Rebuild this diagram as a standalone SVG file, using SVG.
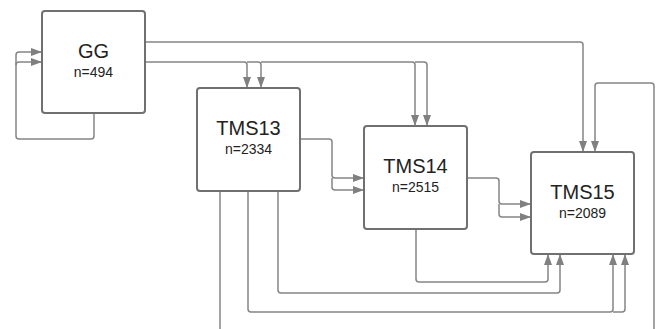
<svg xmlns="http://www.w3.org/2000/svg" width="657" height="329" viewBox="0 0 657 329">
<style>
.box{fill:#ffffff;stroke:#707070;stroke-width:2}
.t{font-family:"Liberation Sans",Arial,sans-serif;font-size:20px;fill:#222;text-anchor:middle}
.n{font-family:"Liberation Sans",Arial,sans-serif;font-size:14px;fill:#222;text-anchor:middle}
.c{fill:none;stroke:#858585;stroke-width:1.5}
</style>
<defs>
<marker id="a" markerUnits="userSpaceOnUse" markerWidth="12" markerHeight="8" refX="11" refY="4" orient="auto">
<path d="M0,0 L11,4 L0,8 z" fill="#808080"/>
</marker>
</defs>
<rect width="657" height="329" fill="#ffffff"/>
<g id="connectors">
<path class="c" d="M94,113 V136 Q94,139 91,139 H19 Q16,139 16,136 V55 Q16,52 19,52 H42" marker-end="url(#a)"/>
<path class="c" d="M16,65 Q16,62 19,62 H42" marker-end="url(#a)"/>
<path class="c" d="M145,42 H580 Q583,42 583,45 V152" marker-end="url(#a)"/>
<path class="c" d="M145,62 H244 Q247,62 247,65 V88" marker-end="url(#a)"/>
<path class="c" d="M247,62 H258 Q261,62 261,65 V88" marker-end="url(#a)"/>
<path class="c" d="M261,62 H412 Q415,62 415,65 V126" marker-end="url(#a)"/>
<path class="c" d="M415,62 H424 Q427,62 427,65 V126" marker-end="url(#a)"/>
<path class="c" d="M654,329 V86 Q654,83 651,83 H598 Q595,83 595,86 V152" marker-end="url(#a)"/>
<path class="c" d="M300,139 H329 Q332,139 332,142 V175 Q332,178 335,178 H364" marker-end="url(#a)"/>
<path class="c" d="M332,178 V187 Q332,190 335,190 H364" marker-end="url(#a)"/>
<path class="c" d="M467,178 H496 Q499,178 499,181 V201 Q499,204 502,204 H531" marker-end="url(#a)"/>
<path class="c" d="M499,204 V214 Q499,217 502,217 H531" marker-end="url(#a)"/>
<path class="c" d="M416,229 V279 Q416,282 419,282 H545 Q548,282 548,279 V254" marker-end="url(#a)"/>
<path class="c" d="M278,191 V290 Q278,293 281,293 H557 Q560,293 560,290 V254" marker-end="url(#a)"/>
<path class="c" d="M248,191 V309 Q248,312 251,312 H610 Q613,312 613,309 V254" marker-end="url(#a)"/>
<path class="c" d="M613,312 H622 Q625,312 625,309 V254" marker-end="url(#a)"/>
<path class="c" d="M220,191 V329"/>
</g>
<g id="GG">
<rect class="box" x="42" y="11" width="103" height="102" rx="3"/>
<text class="t" x="93.5" y="58">GG</text>
<text class="n" x="93.5" y="77">n=494</text>
</g>
<g id="TMS13">
<rect class="box" x="197" y="88" width="103" height="103" rx="3"/>
<text class="t" x="248.5" y="135">TMS13</text>
<text class="n" x="248.5" y="154">n=2334</text>
</g>
<g id="TMS14">
<rect class="box" x="364" y="126" width="103" height="103" rx="3"/>
<text class="t" x="415.5" y="173">TMS14</text>
<text class="n" x="415.5" y="192">n=2515</text>
</g>
<g id="TMS15">
<rect class="box" x="531" y="152" width="103" height="102" rx="3"/>
<text class="t" x="582.5" y="199">TMS15</text>
<text class="n" x="582.5" y="218">n=2089</text>
</g>
</svg>
